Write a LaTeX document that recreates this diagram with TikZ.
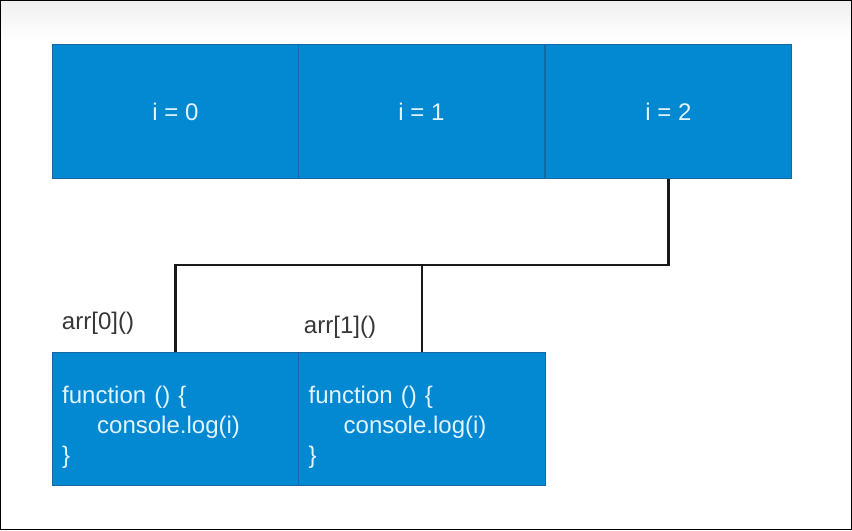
\documentclass[tikz,border=0pt]{standalone}
\usepackage{fontspec}
\setmainfont{Liberation Sans}
\usepackage{tikz}
\usetikzlibrary{positioning,calc}
\definecolor{cellblue}{RGB}{3,137,209}
\definecolor{celledge}{RGB}{20,105,165}
\definecolor{celltext}{RGB}{225,244,255}
\definecolor{labeltext}{RGB}{55,55,55}
\begin{document}
\begin{tikzpicture}[x=0.03cm, y=-0.03cm, wire/.style={line width=2.4pt,black!90}, cell node/.style={rectangle,draw=celledge,line width=0.8pt,fill=cellblue,text=celltext,minimum width=7.4cm,minimum height=4cm,inner sep=0pt}, code node/.style={cell node,inner xsep=0.3cm,text width=6.8cm,align=left}]
\useasboundingbox (0,0) rectangle (852,530);
\shade[top color=black!6, bottom color=white] (0,0) rectangle (852,40);
\draw[line width=1.5pt] (0.6,0.6) rectangle (851.4,529.4);
\begin{scope}[every node/.style={font=\fontsize{20.5}{25.5}\selectfont}]
\node[cell node] (i0) at (175.5,111.5) {i = 0};
\node[cell node] (i1) at (421.5,111.5) {i = 1};
\node[cell node] (i2) at (668.5,111.5) {i = 2};
\node[code node] (f0) at (175.5,419) {\rule{0pt}{1cm}function () \{\\\hspace*{1.05cm}console.log(i)\\\}};
\node[code node] (f1) at (422,419) {\rule{0pt}{1cm}function () \{\\\hspace*{1.05cm}console.log(i)\\\}};
\node[text=labeltext] (a0) at (98,323) {arr[0]()};
\node[text=labeltext] (a1) at (340,327) {arr[1]()};
\end{scope}
\coordinate (hub) at (0,265);
\begin{scope}
\draw[wire] (i2.south) -- (i2.south |- hub) -| (f0.north);
\draw[wire] (f1.north) -- (f1.north |- hub);
\end{scope}
\end{tikzpicture}
\end{document}
